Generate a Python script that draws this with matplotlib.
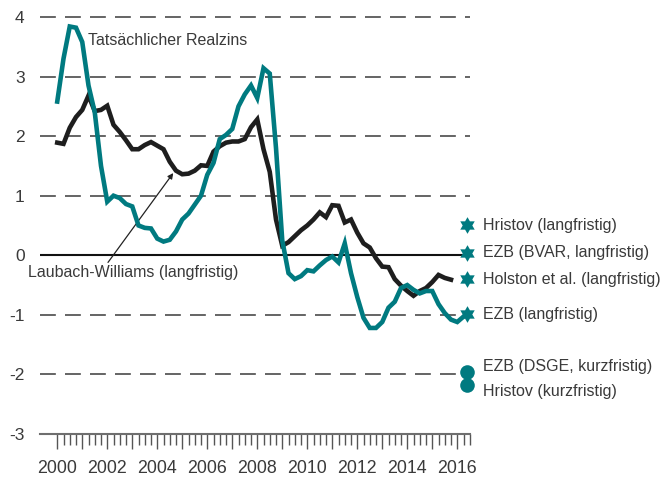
import numpy as np
import matplotlib
matplotlib.use("Agg")
import matplotlib.pyplot as plt

plt.rcParams['font.family'] = ['Liberation Sans', 'DejaVu Sans']

# ---------------- data ----------------
start_year = 2000.0
step = 0.25  # quarterly

actual_real_rate = [
    2.58, 3.30, 3.84, 3.82,
    3.58, 2.85, 2.40, 1.50,
    0.90, 1.00, 0.96, 0.86,
    0.82, 0.50, 0.46, 0.45,
    0.28, 0.23, 0.26, 0.40,
    0.60, 0.70, 0.85, 1.00,
    1.35, 1.55, 1.95, 2.02,
    2.12, 2.50, 2.70, 2.85,
    2.64, 3.14, 3.05, 1.80,
    0.25, -0.30, -0.40, -0.35,
    -0.25, -0.27, -0.17, -0.08,
    -0.02, -0.12, 0.20, -0.30,
    -0.70, -1.05, -1.22, -1.22,
    -1.12, -0.88, -0.78, -0.55,
    -0.50, -0.58, -0.64, -0.60,
    -0.60, -0.82, -0.97, -1.08,
    -1.12, -1.03,
]

laubach_williams = [
    1.89, 1.87, 2.14, 2.32,
    2.44, 2.68, 2.42, 2.44,
    2.51, 2.19, 2.07, 1.93,
    1.78, 1.78, 1.85, 1.90,
    1.84, 1.78, 1.57, 1.42,
    1.36, 1.37, 1.42, 1.51,
    1.50, 1.74, 1.83, 1.89,
    1.91, 1.91, 1.95, 2.15,
    2.28, 1.78, 1.40, 0.60,
    0.16, 0.22, 0.32, 0.42,
    0.50, 0.60, 0.72, 0.64,
    0.84, 0.83, 0.55, 0.60,
    0.38, 0.20, 0.13, -0.05,
    -0.19, -0.20, -0.40, -0.51,
    -0.60, -0.68, -0.60, -0.55,
    -0.45, -0.33, -0.38, -0.41,
]

estimate_year = 2016.4
star_labels = ["Hristov (langfristig)", "EZB (BVAR, langfristig)",
               "Holston et al. (langfristig)", "EZB (langfristig)"]
star_values = [0.50, 0.04, -0.40, -0.99]

circle_labels = ["EZB (DSGE, kurzfristig)", "Hristov (kurzfristig)"]
circle_values = [-1.96, -2.17]
circle_label_values = [-1.86, -2.28]

ytick_values = [-3, -2, -1, 0, 1, 2, 3, 4]
xtick_years = list(range(2000, 2017))

# ---------------- style ----------------
TEAL = '#007a80'
BLACK = '#1e1e1e'
TXT = '#3a3a3a'
GRID = '#4a4a4a'

t_actual = start_year + step * np.arange(len(actual_real_rate))
t_lw = start_year + step * np.arange(len(laubach_williams))

fig = plt.figure(figsize=(6.7, 4.79), dpi=100)
ax = fig.add_axes([40/670, 45/479, 430/670, 423/479])
ax.set_xlim(1999.31, 2016.51)
ax.set_ylim(-3, 4.1)

# grid lines
for v in ytick_values:
    if v == 0:
        ax.axhline(v, color='#111111', lw=1.5, zorder=1)
    elif v == -3:
        continue
    else:
        ax.axhline(v, color=GRID, lw=1.2, ls=(0, (9.5, 5.5)), zorder=1)

# series
ax.plot(t_lw, laubach_williams, color=BLACK, lw=3.3, solid_joinstyle='miter', zorder=3)
ax.plot(list(t_actual) + [estimate_year], list(actual_real_rate) + [star_values[-1]],
        color=TEAL, lw=3.3, solid_joinstyle='miter', zorder=4)

# hexagram marker
ang = np.deg2rad(90 + 30 * np.arange(12))
rad = np.where(np.arange(12) % 2 == 0, 1.0, 0.577)
hexagram = list(zip(rad * np.cos(ang), rad * np.sin(ang)))

ax.plot([estimate_year] * len(star_values), star_values, ls='none', marker=hexagram,
        markersize=12, color=TEAL, markeredgewidth=0, clip_on=False, zorder=5)
ax.plot([estimate_year] * len(circle_values), circle_values, ls='none', marker='o',
        markersize=10.5, color=TEAL, markeredgewidth=0, clip_on=False, zorder=5)

label_x = 2017.03
for lab, v in zip(star_labels, star_values):
    ax.text(label_x, v, lab, ha='left', va='center', fontsize=11.5, color=TXT, clip_on=False)
for lab, v in zip(circle_labels, circle_label_values):
    ax.text(label_x, v, lab, ha='left', va='center', fontsize=11.5, color=TXT, clip_on=False)

# annotations
ax.text(2001.23, 3.61, "Tatsächlicher Realzins", ha='left', va='center', fontsize=11.5, color=TXT)
ax.text(1998.83, -0.29, "Laubach-Williams (langfristig)", ha='left', va='center',
        fontsize=11.5, color=TXT, clip_on=False)
ax.annotate('', xy=(2004.64, 1.38), xytext=(2002.03, -0.12),
            arrowprops=dict(arrowstyle='-|>', lw=0.9, color='#222222',
                            mutation_scale=8, shrinkA=0, shrinkB=0))

# axes styling
for s in ['top', 'right', 'left']:
    ax.spines[s].set_visible(False)
ax.spines['bottom'].set_color('#6e6e6e')
ax.spines['bottom'].set_linewidth(1.5)

ax.set_yticks(ytick_values)
ax.set_yticklabels([str(v) for v in ytick_values])
ax.tick_params(axis='y', length=0, pad=11, labelsize=12.5, labelcolor=TXT)

ax.set_xticks(xtick_years)
ax.set_xticklabels([str(y) if y % 2 == 0 else '' for y in xtick_years])
ax.set_xticks([y + q for y in range(2000, 2017) for q in (0.25, 0.5, 0.75) if y + q <= 2016.5],
              minor=True)
ax.tick_params(axis='x', which='major', direction='out', length=11, width=1.0,
               color='#555555', pad=8, labelsize=12.8, labelcolor=TXT)
ax.tick_params(axis='x', which='minor', direction='out', length=8, width=1.0, color='#555555')

fig.savefig('out.png', dpi=100)
